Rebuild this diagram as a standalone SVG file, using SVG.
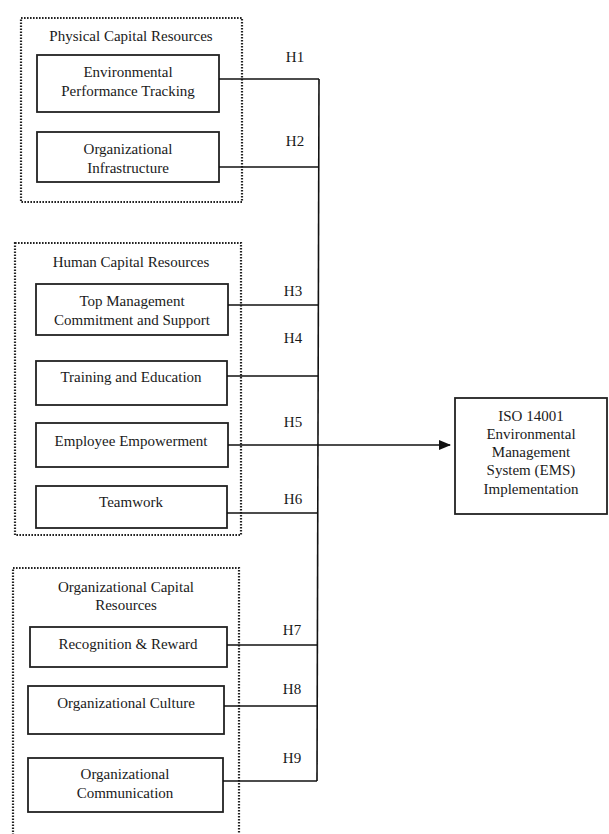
<svg xmlns="http://www.w3.org/2000/svg" width="609" height="834" viewBox="0 0 609 834">
<defs>
<style>
text{font-family:'Liberation Serif','Tinos','Times New Roman','Nimbus Roman','DejaVu Serif',serif;font-size:15px;fill:#1a1a1a;text-anchor:middle}
.grp{fill:none;stroke:#222;stroke-width:2.2;stroke-dasharray:1.6 1.4}
.box{fill:#fff;stroke:#222;stroke-width:1.8}
.ln{fill:none;stroke:#111;stroke-width:1.6}
</style>
<marker id="arr" markerWidth="12" markerHeight="10" refX="11" refY="5" orient="auto" markerUnits="userSpaceOnUse">
<path d="M0,0 L12,5 L0,10 Z" fill="#111"/>
</marker>
</defs>
<rect width="609" height="834" fill="#fff"/>

<g id="group-physical">
<rect class="grp" x="21" y="18" width="221" height="184"/>
<text x="131" y="41">Physical Capital Resources</text>
</g>
<g id="node-ept">
<rect class="box" x="37" y="55" width="182" height="57"/>
<text x="128" y="77">Environmental</text>
<text x="128" y="96">Performance Tracking</text>
</g>
<g id="node-oi">
<rect class="box" x="37" y="132" width="182" height="50"/>
<text x="128" y="154">Organizational</text>
<text x="128" y="173">Infrastructure</text>
</g>

<g id="group-human">
<rect class="grp" x="15" y="243" width="226" height="292"/>
<text x="131" y="267">Human Capital Resources</text>
</g>
<g id="node-tm">
<rect class="box" x="36" y="284" width="192" height="51"/>
<text x="132" y="306">Top Management</text>
<text x="132" y="325">Commitment and Support</text>
</g>
<g id="node-te">
<rect class="box" x="36" y="361" width="191" height="44"/>
<text x="131" y="382">Training and Education</text>
</g>
<g id="node-ee">
<rect class="box" x="36" y="423" width="192" height="44"/>
<text x="131" y="446">Employee Empowerment</text>
</g>
<g id="node-tw">
<rect class="box" x="36" y="486" width="191" height="42"/>
<text x="131" y="507">Teamwork</text>
</g>

<g id="group-org">
<rect class="grp" x="13" y="568" width="226" height="272"/>
<text x="126" y="592">Organizational Capital</text>
<text x="126" y="610">Resources</text>
</g>
<g id="node-rr">
<rect class="box" x="30" y="627" width="197" height="40"/>
<text x="128" y="649">Recognition &amp; Reward</text>
</g>
<g id="node-oc">
<rect class="box" x="28" y="686" width="196" height="48"/>
<text x="126" y="708">Organizational Culture</text>
</g>
<g id="node-ocm">
<rect class="box" x="28" y="758" width="195" height="54"/>
<text x="125" y="779">Organizational</text>
<text x="125" y="798">Communication</text>
</g>

<g id="node-ems">
<rect class="box" x="455" y="398" width="152" height="116"/>
<text x="531" y="421">ISO 14001</text>
<text x="531" y="439">Environmental</text>
<text x="531" y="457">Management</text>
<text x="531" y="475">System (EMS)</text>
<text x="531" y="494">Implementation</text>
</g>

<g id="connectors">
<path class="ln" d="M319,79 L317,781"/>
<path class="ln" d="M219,79 H319"/>
<path class="ln" d="M219,167 H319"/>
<path class="ln" d="M228,305 H318"/>
<path class="ln" d="M227,376 H318"/>
<path class="ln" d="M228,445 H450" marker-end="url(#arr)"/>
<path class="ln" d="M227,513 H318"/>
<path class="ln" d="M227,645 H317"/>
<path class="ln" d="M224,706 H317"/>
<path class="ln" d="M223,781 H317"/>
</g>

<g id="labels">
<text x="295" y="62">H1</text>
<text x="295" y="146">H2</text>
<text x="293" y="296">H3</text>
<text x="293" y="343">H4</text>
<text x="293" y="427">H5</text>
<text x="293" y="504">H6</text>
<text x="292" y="635">H7</text>
<text x="292" y="694">H8</text>
<text x="292" y="763">H9</text>
</g>
</svg>
